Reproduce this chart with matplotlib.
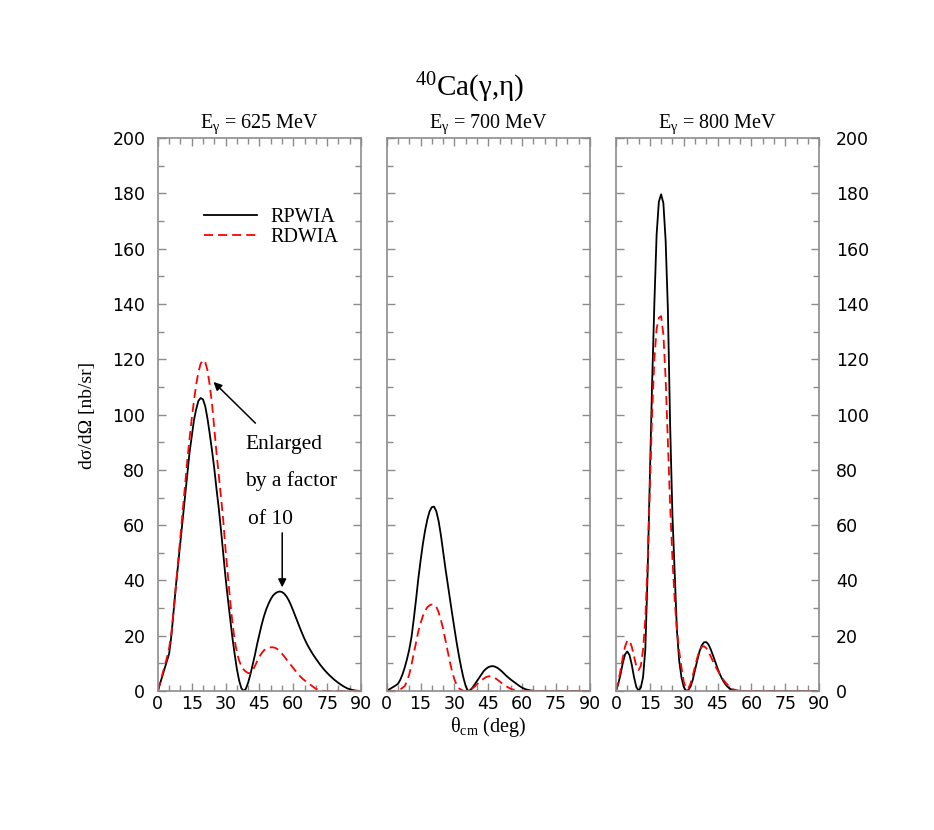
import numpy as np
import matplotlib
matplotlib.use('Agg')
import matplotlib.pyplot as plt
from matplotlib.ticker import MultipleLocator

plt.rcParams['font.family'] = ['DejaVu Sans']
plt.rcParams['mathtext.fontset'] = 'custom'
plt.rcParams['mathtext.rm'] = 'Liberation Serif'
plt.rcParams['mathtext.it'] = 'Liberation Serif:italic'
plt.rcParams['mathtext.bf'] = 'Liberation Serif:bold'
SERIF = 'Liberation Serif'

# ---- data ----
energies = ['625', '700', '800']

theta_a = list(range(0, 71)) + [72, 74, 76, 78, 80, 82, 84, 86, 88, 90]
rpwia_625 = [0, 2.7, 5.4, 8.1, 10.8, 13.5, 20, 29, 38, 46,
             54, 62, 70, 78, 86, 92, 98, 102, 105, 106,
             105.5, 103, 98.5, 93, 87, 80.5, 73, 66, 58, 49.5,
             41, 33.5, 26.5, 19.5, 13.5, 8, 3.8, 1, 0, 0.8,
             3, 6, 9.5, 13, 17, 20.5, 24, 27, 29.5, 31.5,
             33.2, 34.5, 35.3, 35.8, 36, 35.8, 35.2, 34.2, 32.8, 31,
             29, 26.9, 24.8, 22.7, 20.7, 18.8, 17.1, 15.6, 14.2, 12.9,
             11.7, 9.4, 7.4, 5.7, 4.2, 2.9, 1.8, 0.9, 0.4, 0.1, 0]

theta_b = list(range(0, 61)) + [62, 64, 66, 68, 70, 72, 74, 78, 82, 86, 90]
rdwia_625 = [0, 3, 6, 9, 12, 15.5, 21, 29, 38, 47,
             56, 65, 74, 83, 91, 98.5, 105, 111, 115.5, 118.5,
             119.7, 119, 116, 110.5, 104, 95, 86, 78, 70, 61.5,
             51, 42, 33, 25, 18.5, 14, 11, 9, 7.8, 7,
             6.5, 6.4, 7.5, 9, 10.8, 12.4, 13.7, 14.7, 15.3, 15.7,
             15.8, 15.8, 15.6, 15.1, 14.4, 13.5, 12.5, 11.4, 10.3, 9.3,
             8.3, 6.2, 4.5, 3.2, 2, 0.8, 0.2, 0, 0, 0, 0, 0]

theta_c = list(range(0, 63)) + [64, 66, 70, 75, 80, 85, 90]
rpwia_700 = [0, 0.5, 1, 1.5, 2, 2.6, 4, 6, 8.5, 11.5,
             15, 19.5, 26, 33, 40.5, 47, 53, 58, 62, 65,
             66.5, 66.7, 65, 61.5, 56.5, 50.5, 44.5, 39, 33.5, 28,
             22.7, 17.5, 12.8, 8.5, 4.8, 1.8, 0, 0.3, 1.2, 2.4,
             3.6, 4.8, 6, 7.2, 8, 8.6, 8.9, 9, 8.8, 8.4,
             7.8, 7.1, 6.3, 5.5, 4.8, 4.1, 3.5, 2.9, 2.3, 1.7,
             1.2, 0.8, 0.5, 0.15, 0, 0, 0, 0, 0, 0]

theta_d = list(range(0, 57)) + [58, 60, 65, 70, 75, 80, 85, 90]
rdwia_700 = [0, 0, 0, 0, 0.1, 0.3, 0.6, 1.1, 1.8, 3.5,
             6, 9.5, 13.5, 17.5, 21.5, 24.5, 27, 29, 30.3, 31,
             31.3, 31.2, 30.5, 28.5, 25.8, 22.5, 18.5, 14.5, 10.5, 7,
             4.2, 2.2, 1, 0.4, 0.1, 0, 0.1, 0.4, 0.9, 1.6,
             2.4, 3.2, 3.9, 4.5, 5, 5.3, 5.3, 5.1, 4.7, 4.1,
             3.5, 2.8, 2.2, 1.7, 1.2, 0.8, 0.5, 0.2, 0, 0, 0, 0, 0, 0, 0]

theta_e = list(range(0, 53)) + [54, 56, 60, 65, 70, 75, 80, 85, 90]
rpwia_800 = [0, 2.5, 6, 10, 13.2, 14.3, 13, 9.5, 5, 1.5,
             0.05, 1.2, 5, 15, 42, 77, 111, 140, 165, 177,
             179.7, 176.5, 163, 138, 96, 64, 43, 22, 11, 5,
             1.5, 0.1, 0.3, 1.5, 4, 7.5, 11, 14.3, 16.5, 17.6,
             17.7, 16.8, 15, 12.8, 10.5, 8.2, 6.1, 4.4, 3, 1.9,
             1.1, 0.6, 0.3, 0.05, 0, 0, 0, 0, 0, 0, 0, 0]

theta_f = list(range(0, 54)) + [55, 57, 60, 65, 70, 75, 80, 85, 90]
rdwia_800 = [0, 3, 7.5, 12, 16, 18.2, 18.2, 16, 12.5, 9,
             7.6, 9, 15, 26, 46, 73, 100, 120, 131, 135,
             135.6, 129, 113, 90, 67, 48, 33, 22, 14.5, 8.5,
             3.5, 0.8, 0.8, 2.6, 5.5, 8.8, 12, 14.5, 16, 16.2,
             15.5, 14.2, 12.5, 10.7, 9, 7.5, 6.1, 4.8, 3.6, 2.6,
             1.8, 1.1, 0.6, 0.3, 0.05, 0, 0, 0, 0, 0, 0, 0, 0]

curves = [
    (theta_a, rpwia_625, theta_b, rdwia_625),
    (theta_c, rpwia_700, theta_d, rdwia_700),
    (theta_e, rpwia_800, theta_f, rdwia_800),
]

fig = plt.figure(figsize=(9.34, 8.3), dpi=100)
lefts = [0.169, 0.414, 0.6595]
axes = [fig.add_axes([l, 0.1675, 0.2175, 0.666]) for l in lefts]

frame_col = '0.55'
for i, ax in enumerate(axes):
    tb, yb, td, yd = curves[i]
    l1, = ax.plot(tb, yb, color='black', lw=1.3, label='RPWIA')
    l2, = ax.plot(td, yd, color='red', lw=1.3, dashes=(5, 2.8), label='RDWIA')
    ax.set_xlim(0, 90)
    ax.set_ylim(0, 200)
    ax.xaxis.set_major_locator(MultipleLocator(15))
    ax.xaxis.set_minor_locator(MultipleLocator(5))
    ax.yaxis.set_major_locator(MultipleLocator(20))
    ax.yaxis.set_minor_locator(MultipleLocator(10))
    ax.tick_params(which='both', direction='in', top=True, right=True,
                   color=frame_col, width=1.0)
    ax.tick_params(which='major', length=6)
    ax.tick_params(which='minor', length=4)
    ax.tick_params(axis='x', labelsize=12.5, pad=3)
    ax.tick_params(axis='y', labelsize=12.5, pad=9)
    for sp in ax.spines.values():
        sp.set_color(frame_col)
        sp.set_linewidth(1.2)
    ax.set_title('E$_{\\mathrm{γ}}$ = ' + energies[i] + ' MeV',
                 family=SERIF, fontsize=14.5, pad=7)
    if i == 0:
        ax.legend(handles=[l1, l2], loc='upper left', bbox_to_anchor=(0.14, 0.906),
                  frameon=False, handlelength=2.6, handletextpad=0.7,
                  labelspacing=0.02, prop={'family': SERIF, 'size': 14.5})
    elif i == 1:
        ax.tick_params(axis='y', labelleft=False)
        ax.set_xlabel('θ$_{\\mathrm{cm}}$ (deg)', family=SERIF, fontsize=14.5, labelpad=1)
    else:
        ax.tick_params(axis='y', labelleft=False, labelright=True, pad=12)

# annotation in first panel
ax = axes[0]
ax.annotate('', xy=(23.8, 112.5), xytext=(44.1, 96.2),
            arrowprops=dict(arrowstyle='-|>', color='black', lw=1.1, mutation_scale=12))
ax.annotate('', xy=(55.1, 36.5), xytext=(55.1, 58.2),
            arrowprops=dict(arrowstyle='-|>', color='black', lw=1.1, mutation_scale=12))
ax.text(38.8, 89.3, 'Enlarged', family=SERIF, fontsize=15.5, va='center')
ax.text(38.8, 76, 'by a factor', family=SERIF, fontsize=15.5, va='center')
ax.text(40.0, 62.2, 'of 10', family=SERIF, fontsize=15.5, va='center')

fig.text(0.094, 0.5, 'dσ/dΩ [nb/sr]', family=SERIF, fontsize=14,
         rotation=90, ha='center', va='center')
fig.text(0.503, 0.894, '$^{40}$Ca(γ,η)', family=SERIF, fontsize=21,
         ha='center', va='center')

fig.savefig('out.png', dpi=100)
